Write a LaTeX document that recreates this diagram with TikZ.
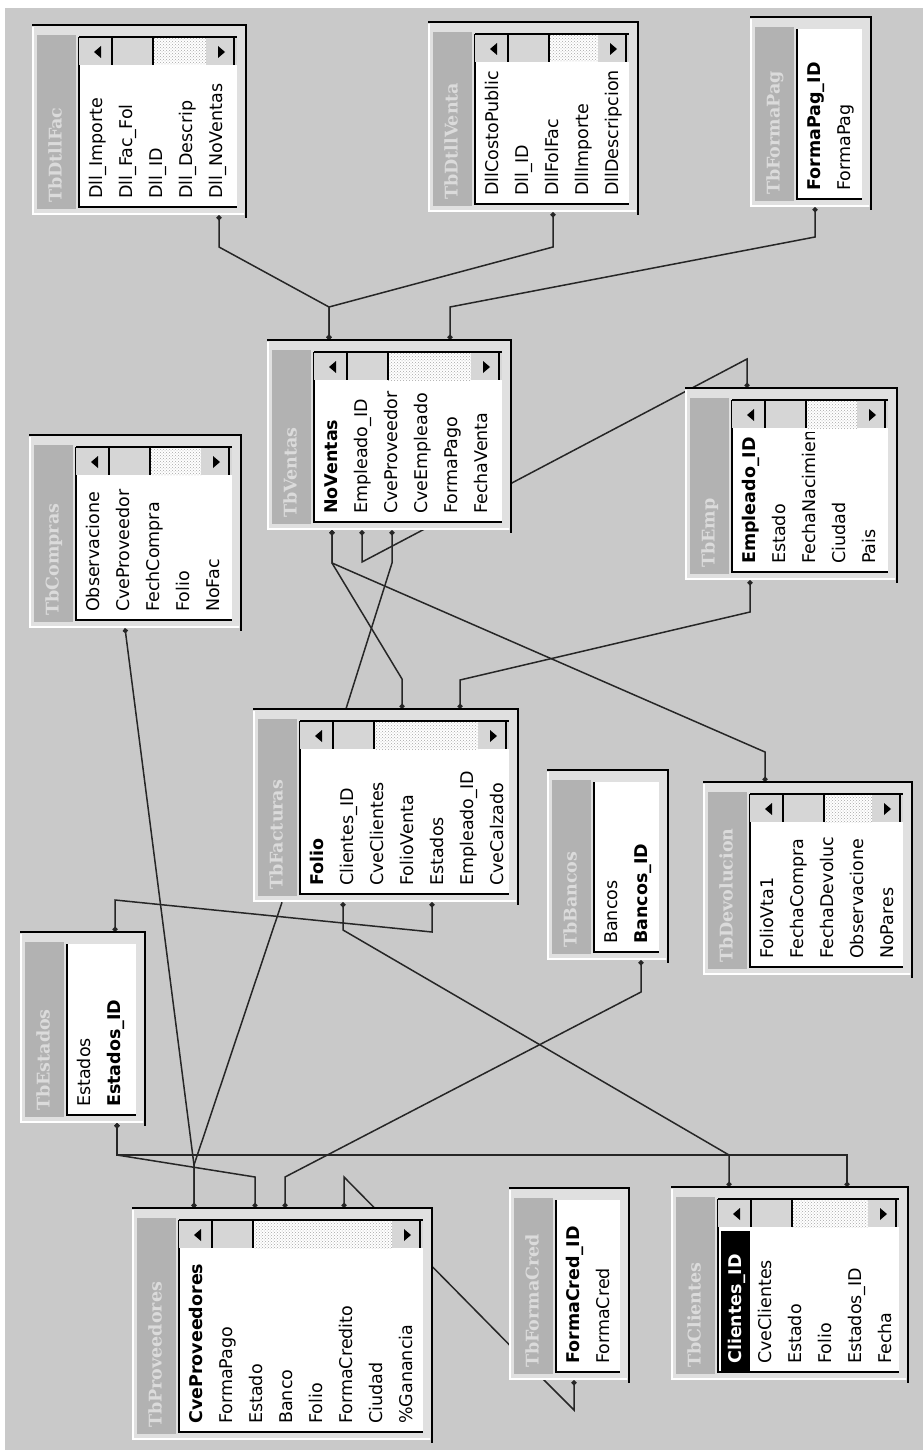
\documentclass[tikz,border=0pt]{standalone}
\usepackage{fontspec}
\setmainfont{DejaVu Sans}
\newfontfamily\titlefont{DejaVu Serif}
\usepackage{tikz}
\usetikzlibrary{arrows.meta,fit,backgrounds,patterns}

\definecolor{pagegray}{gray}{0.79}
\definecolor{tbody}{gray}{0.88}
\definecolor{stripgray}{gray}{0.70}
\definecolor{titlefg}{gray}{0.86}
\definecolor{btngray}{gray}{0.84}

\tikzset{
  field/.style={rotate=90, anchor=west, inner sep=0pt, text height=13pt, text depth=4pt,
    font=\fontsize{17.5}{20}\selectfont},
  titletext/.style={rotate=90, anchor=west, inner sep=0pt, text height=13pt, text depth=4pt,
    text=titlefg, font=\titlefont\bfseries\fontsize{17.5}{20}\selectfont},
  listedge/.style={draw=black, line width=1.6pt},
  rel/.style={draw=black!85, line width=1.5pt, arrows={Circle[length=5pt]-Circle[length=5pt]}}
}

% selected row of a field list
\newcommand{\selrow}[1]{{\setlength{\fboxsep}{0pt}\hspace*{-9pt}\colorbox{black}{\makebox[170pt][l]{\rule[-8pt]{0pt}{29pt}\hspace*{9pt}\textcolor{white}{\textbf{#1}}}}}}

\newcommand{\dbTable}[8]{
    % #1 name, #2 left, #3 top, #4 right, #5 bottom, #6 title, #7 fields, #8 scroll bar
    \coordinate (#1-nw) at (#2,#3);
    \coordinate (#1-se) at (#4,#5);
    \node[inner sep=0pt, fit=(#1-nw)(#1-se)] (#1) {};

    % Draw the window frame
    \fill[tbody] (#2,#3) rectangle (#4,#5);
    \draw[white, line width=2pt] (#2+1,#3+2) -- (#2+1,#5-1) -- (#4-2,#5-1);
    \draw[black, line width=2pt] (#2,#3) -- (#4,#3) -- (#4,#5+3);

    % Draw the title strip
    \fill[stripgray] (#2+5,#3+10) rectangle (#2+44,#5-6);
    \begin{scope}
      \clip (#2+5,#3+10) rectangle (#2+44,#5-6);
      \node[titletext] (#1-title) at (#2+25,#5-12) {#6};
    \end{scope}

    % Draw the field list
    \fill[white] (#2+47,#3+12) rectangle (#4-9,#5-8);
    \draw[listedge] (#2+47,#3+12) -- (#2+47,#5-8) -- (#4-9,#5-8);

    \ifnum#8=1
      \fill[btngray] (#2+47,#3+12) rectangle (#2+121,#3+40);
      \fill[white] (#2+121,#3+12) rectangle (#4-40,#3+40);
      \fill[pattern=crosshatch dots, pattern color=gray!70] (#2+121,#3+12) rectangle (#4-40,#3+40);
      \fill[btngray] (#4-40,#3+12) rectangle (#4-9,#3+40);
      \fill[black] (#2+62,#3+27) -- (#2+69,#3+21) -- (#2+69,#3+33) -- cycle;
      \fill[black] (#4-21,#3+27) -- (#4-28,#3+21) -- (#4-28,#3+33) -- cycle;
      \draw[listedge] (#2+80,#3+12) -- (#2+80,#3+40);
      \draw[listedge] (#2+121,#3+12) -- (#2+121,#3+40);
      \draw[listedge] (#4-12,#3+12) -- (#4-12,#3+40);
      \draw[listedge] (#2+47,#3+12) -- (#4-9,#3+12);
      \def\rowtop{#3+44}
    \else
      \def\rowtop{#3+13}
    \fi

    \begin{scope}
      \clip (#2+48,{\rowtop}) rectangle (#4-9,#5-9);
      \foreach \f [count=\i] in {#7} {
        \node[field] (#1-f\i) at ({#2+66+30*(\i-1)},{#5-16}) {\f};
      }
    \end{scope}
}

\begin{document}
\begin{tikzpicture}[x=1pt, y=-1pt]
  \useasboundingbox (0,0) rectangle (923,1450);
  \begin{scope}[on background layer]
    \fill[pagegray] (5,8) rectangle (923,1450);
  \end{scope}

  % Tables
  \dbTable{dtllfac}{32}{25}{246}{215}{TbDtllFac}{Dll\_Importe,Dll\_Fac\_Fol,Dll\_ID,Dll\_Descrip,Dll\_NoVentas}{1}
  \dbTable{dtllventa}{428}{22}{638}{212}{TbDtllVenta}{DllCostoPublic,Dll\_ID,DllFolFac,DllImporte,DllDescripcion}{1}
  \dbTable{formapag}{750}{17}{871}{207}{TbFormaPag}{\textbf{FormaPag\_ID},FormaPag}{0}
  \dbTable{ventas}{267}{340}{511}{530}{TbVentas}{\textbf{NoVentas},Empleado\_ID,CveProveedor,CveEmpleado,FormaPago,FechaVenta}{1}
  \dbTable{compras}{29}{435}{241}{628}{TbCompras}{Observacione,CveProveedor,FechCompra,Folio,NoFac}{1}
  \dbTable{emp}{685}{388}{897}{580}{TbEmp}{\textbf{Empleado\_ID},Estado,FechaNacimien,Ciudad,Pais}{1}
  \dbTable{facturas}{253}{709}{518}{902}{TbFacturas}{\textbf{Folio},Clientes\_ID,CveClientes,FolioVenta,Estados,Empleado\_ID,CveCalzado}{1}
  \dbTable{bancos}{547}{770}{668}{960}{TbBancos}{Bancos,\textbf{Bancos\_ID}}{0}
  \dbTable{devolucion}{703}{782}{912}{975}{TbDevolucion}{FolioVta1,FechaCompra,FechaDevoluc,Observacione,NoPares}{1}
  \dbTable{estados}{20}{932}{145}{1123}{TbEstados}{Estados,\textbf{Estados\_ID}}{0}
  \dbTable{proveedores}{132}{1208}{432}{1440}{TbProveedores}{\textbf{CveProveedores},FormaPago,Estado,Banco,Folio,FormaCredito,Ciudad,\%Ganancia}{1}
  \dbTable{formacred}{509}{1188}{629}{1380}{TbFormaCred}{\textbf{FormaCred\_ID},FormaCred}{0}
  \dbTable{clientes}{671}{1187}{908}{1380}{TbClientes}{\selrow{Clientes\_ID},CveClientes,Estado,Folio,Estados\_ID,Fecha}{1}

  % Relationships
  \begin{scope}[on background layer]
    \draw[rel] (219,0 |- dtllfac.south) -- (219,247) -- (329,307) -- (329,0 |- ventas.north);
    \draw[rel] (553,0 |- dtllventa.south) -- (553,247) -- (329,307) -- (329,0 |- ventas.north);
    \draw[rel] (815,0 |- formapag.south) -- (815,237) -- (450,307) -- (450,0 |- ventas.north);
    \draw[rel] (332,0 |- ventas.south) -- (332,563) -- (402,679) -- (402,0 |- facturas.north);
    \draw[rel] (332,0 |- ventas.south) -- (332,563) -- (765,752) -- (765,0 |- devolucion.north);
    \draw[rel] (362,0 |- ventas.south) -- (362,562) -- (747,359) -- (747,0 |- emp.north);
    \draw[rel, arrows={Circle[length=5pt]-}] (392,0 |- ventas.south) -- (392,563) -- (346,0 |- facturas.north);
    \draw[rel] (750,0 |- emp.south) -- (750,612) -- (460,680) -- (460,0 |- facturas.north);
    \draw[rel] (125,0 |- compras.south) -- (194,1165) -- (194,0 |- proveedores.north);
    \draw[rel, arrows={-Circle[length=5pt]}] (282,0 |- facturas.south) -- (194,1165) -- (194,0 |- proveedores.north);
    \draw[rel] (432,0 |- facturas.south) -- (432,932) -- (115,900) -- (115,0 |- estados.north);
    \draw[rel] (343,0 |- facturas.south) -- (343,930) -- (729,1155) -- (729,0 |- clientes.north);
    \draw[rel] (641,0 |- bancos.south) -- (641,992) -- (285,1177) -- (285,0 |- proveedores.north);
    \draw[rel] (117,0 |- estados.south) -- (117,1155) -- (847,1155) -- (847,0 |- clientes.north);
    \draw[rel] (117,0 |- estados.south) -- (117,1155) -- (255,1177) -- (255,0 |- proveedores.north);
    \draw[rel] (344,0 |- proveedores.north) -- (344,1177) -- (547,1383) -- (574,1410) -- (574,0 |- formacred.south);
  \end{scope}
\end{tikzpicture}
\end{document}
